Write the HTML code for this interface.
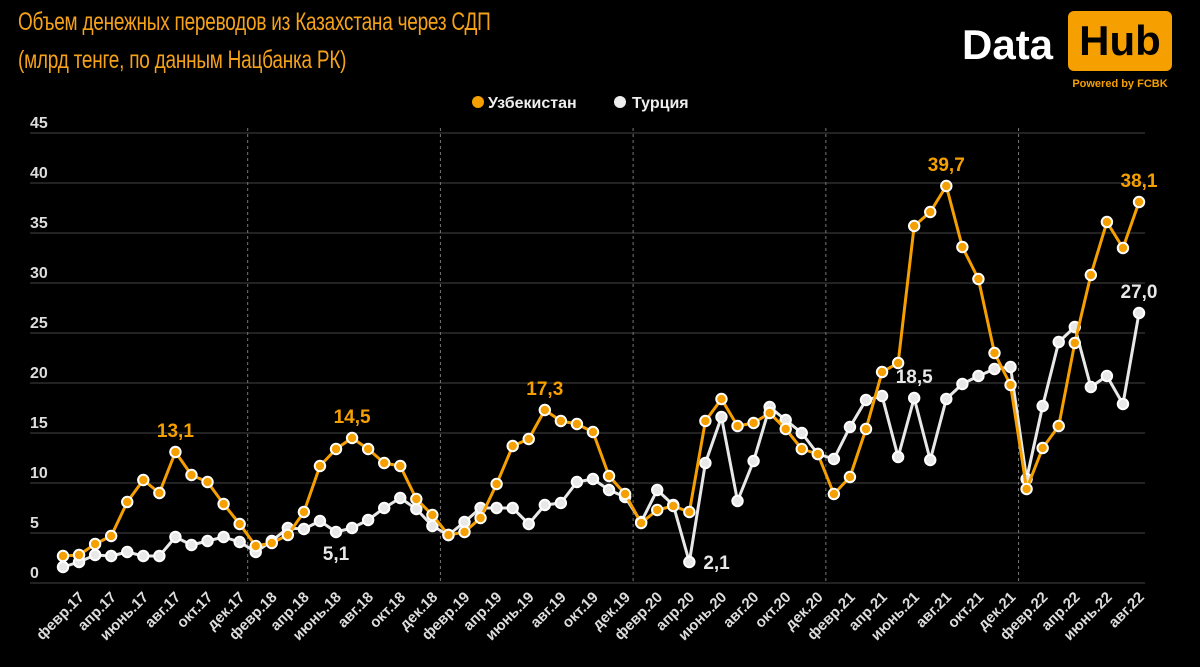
<!DOCTYPE html>
<html><head><meta charset="utf-8"><style>
html,body{margin:0;padding:0;background:#000;}
body{width:1200px;height:667px;overflow:hidden;position:relative;font-family:"Liberation Sans",sans-serif;}
.t{position:absolute;left:18px;color:#f5a21a;font-size:25px;letter-spacing:-0.3px;transform:scaleX(0.76);transform-origin:0 0;white-space:nowrap;}
</style></head><body>
<div class="t" style="top:8px;">Объем денежных переводов из Казахстана через СДП</div>
<div class="t" style="top:46px;">(млрд тенге, по данным Нацбанка РК)</div>
<div style="position:absolute;left:960px;top:8px;width:220px;height:90px;">
  <div style="position:absolute;left:2px;top:13px;color:#fff;font-weight:bold;font-size:42px;">Data</div>
  <div style="position:absolute;left:108px;top:3px;width:104px;height:60px;background:#f5a000;border-radius:6px;color:#000;font-weight:bold;font-size:42px;text-align:center;line-height:60px;">Hub</div>
  <div style="position:absolute;left:108px;top:70px;width:104px;text-align:center;color:#f5a000;font-weight:bold;font-size:11px;">Powered by FCBK</div>
</div>
<svg id="c" width="1200" height="667" style="position:absolute;left:0;top:0;"></svg>
<script>
const uzb=[2.7,2.8,3.9,4.7,8.1,10.3,9.0,13.1,10.8,10.1,7.9,5.9,3.7,4.0,4.8,7.1,11.7,13.4,14.5,13.4,12.0,11.7,8.4,6.8,4.8,5.1,6.5,9.9,13.7,14.4,17.3,16.2,15.9,15.1,10.7,8.9,6.0,7.3,7.7,7.1,16.2,18.4,15.7,16.0,17.0,15.4,13.4,12.9,8.9,10.6,15.4,21.1,22.0,35.7,37.1,39.7,33.6,30.4,23.0,19.8,9.4,13.5,15.7,24.0,30.8,36.1,33.5,38.1];
const tur=[1.6,2.1,2.8,2.7,3.1,2.7,2.7,4.6,3.8,4.2,4.6,4.1,3.1,4.2,5.5,5.4,6.2,5.1,5.5,6.3,7.5,8.5,7.4,5.7,4.8,6.1,7.5,7.5,7.5,5.9,7.8,8.0,10.1,10.4,9.3,8.6,6.1,9.3,7.8,2.1,12.0,16.6,8.2,12.2,17.6,16.3,15.0,12.9,12.4,15.6,18.3,18.7,12.6,18.5,12.3,18.4,19.9,20.7,21.4,21.6,10.4,17.7,24.1,25.6,19.6,20.7,17.9,27.0];
const months=["янв","февр","март","апр","май","июнь","июль","авг","сент","окт","нояб","дек"];
const yTicks=[0,5,10,15,20,25,30,35,40,45];
const uzbLabels=[[7,"13,1"],[18,"14,5"],[30,"17,3"],[55,"39,7"],[67,"38,1"]];
const turLabels=[[17,"5,1"],[39,"2,1"],[53,"18,5"],[67,"27,0"]];
const svg=document.getElementById('c');const NS='http://www.w3.org/2000/svg';
const X=i=>63+i*16.06, Y=v=>583-v*10;
function el(t,a,p){const e=document.createElementNS(NS,t);for(const k in a)e.setAttribute(k,a[k]);(p||svg).appendChild(e);return e;}
yTicks.forEach(v=>{
 const g=el('line',{x1:30,x2:1145,y1:Y(v),y2:Y(v),stroke:'#2e2e2e','stroke-width':1.5});
 
 
 const t=el('text',{x:30,y:Y(v)-5,fill:'#ddd','font-size':16,'font-weight':'bold'});t.textContent=v;
 
 
});
for(let y=1;y<=5;y++){const i=12*y-0.5;
 const d=el('line',{x1:X(i),x2:X(i),y1:128,y2:583,stroke:'#777','stroke-width':1,'stroke-dasharray':'3,3'});
 
 }
for(let i=1;i<uzb.length;i+=2){const lab=months[i%12]+'.'+String(17+Math.floor(i/12));
 const t=el('text',{x:X(i)+6,y:598,fill:'#ddd','font-size':15,'font-weight':'bold','text-anchor':'end',transform:`rotate(-45 ${X(i)+6} 598)`});t.textContent=lab;
 
 }
function series(arr,col,name){
 const p=el('polyline',{points:arr.map((v,i)=>X(i)+','+Y(v)).join(' '),fill:'none',stroke:col,'stroke-width':3,'stroke-linejoin':'round'});
 
 
 arr.forEach((v,i)=>{const c=el('circle',{cx:X(i),cy:Y(v),r:5.2,fill:col,stroke:'#fff','stroke-width':2});
  
  });
}
series(tur,'#e8e8e8','turkey');
series(uzb,'#f5a000','uzbekistan');
uzbLabels.forEach(([i,s])=>{const t=el('text',{x:X(i),y:Y(uzb[i])-15,fill:'#f5a000','font-size':19,'font-weight':'bold','text-anchor':'middle'});t.textContent=s;
 
 });
turLabels.forEach(([i,s])=>{let x=X(i),y=Y(tur[i])-15,a='middle';
 if(i===17){y=Y(tur[i])+28;}
 if(i===39){x=X(i)+14;y=Y(tur[i])+7;a='start';}
 const t=el('text',{x:x,y:y,fill:'#e8e8e8','font-size':19,'font-weight':'bold','text-anchor':a});t.textContent=s;
 
 });
const l1=el('circle',{cx:478,cy:102,r:6,fill:'#f5a000'});
const l2=el('text',{x:488,y:108,fill:'#eee','font-size':16,'font-weight':'bold'});l2.textContent='Узбекистан';
const l3=el('circle',{cx:620,cy:102,r:6,fill:'#eee'});
const l4=el('text',{x:632,y:108,fill:'#eee','font-size':16,'font-weight':'bold'});l4.textContent='Турция';
</script>
</body></html>
